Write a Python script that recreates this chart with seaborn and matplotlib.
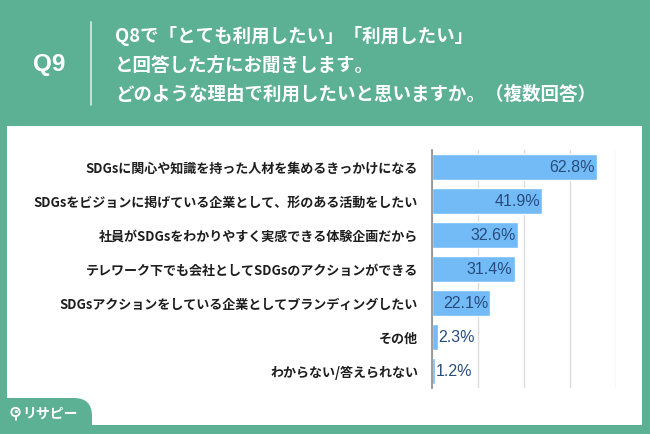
import matplotlib
matplotlib.use("Agg")
import matplotlib.pyplot as plt
import seaborn as sns
import pandas as pd
from matplotlib.patches import Rectangle, FancyBboxPatch, Circle

categories = [
    "SDGsに関心や知識を持った人材を集めるきっかけになる",
    "SDGsをビジョンに掲げている企業として、形のある活動をしたい",
    "社員がSDGsをわかりやすく実感できる体験企画だから",
    "テレワーク下でも会社としてSDGsのアクションができる",
    "SDGsアクションをしている企業としてブランディングしたい",
    "その他",
    "わからない/答えられない",
]
values = [62.8, 41.9, 32.6, 31.4, 22.1, 2.3, 1.2]
title_lines = [
    "Q8で「とても利用したい」「利用したい」",
    "と回答した方にお聞きします。",
    "どのような理由で利用したいと思いますか。（複数回答）",
]
q_label = "Q9"

GREEN = "#5cb094"
BAR = "#72bbf6"
VAL = "#284c7c"

sns.set_theme(style="white")
plt.rcParams["font.family"] = ["Noto Sans CJK JP", "DejaVu Sans"]

W, H = 650, 434
fig = plt.figure(figsize=(6.5, 4.34), dpi=100, facecolor=GREEN)

# background / decoration axes in pixel coordinates
bg = fig.add_axes([0, 0, 1, 1], zorder=0)
bg.set_xlim(0, W)
bg.set_ylim(H, 0)
bg.axis("off")
bg.add_patch(Rectangle((7, 126), 635, 299, facecolor="white", edgecolor="none"))
bg.add_patch(FancyBboxPatch((-40, 398), 132, 80, boxstyle="round,pad=0,rounding_size=18",
                            facecolor=GREEN, edgecolor="none"))
bg.plot([91, 91], [22, 105], color="#d6ece3", lw=1.2)
bg.text(49, 64, q_label, color="white", fontsize=17.5, fontweight="bold",
        ha="center", va="center", family=["Liberation Sans", "DejaVu Sans"])
for i, line in enumerate(title_lines):
    bg.text(115, 36 + i * 29, line, color="white", fontsize=13.3, fontweight="bold",
            ha="left", va="center")
# logo
bg.add_patch(Circle((15.5, 412), 4.2, facecolor="none", edgecolor="white", lw=1.3))
bg.add_patch(Circle((16.3, 411.5), 1.6, facecolor="white", edgecolor="none"))
bg.plot([15.5, 15.5], [416, 420], color="white", lw=1.3)
bg.text(22, 414, "リサピー", color="white", fontsize=10, fontweight="bold",
        ha="left", va="center")

# main chart
left, right = 432 / W, 616 / W
top, bottom = 1 - 150 / H, 1 - 388 / H
ax = fig.add_axes([left, bottom, right - left, top - bottom], zorder=1)
ax.patch.set_alpha(0)

df = pd.DataFrame({"category": categories, "value": values})
sns.barplot(data=df, x="value", y="category", color=BAR, width=0.74,
            saturation=1, ax=ax, zorder=2)

ax.set_xlim(0, 70)
ax.set_ylim(len(categories) - 0.5, -0.5)
ax.set_xticks([0, 17.5, 35, 52.5, 70])
ax.set_xticklabels([])
ax.grid(axis="x", color="#dcdcdc", lw=1, zorder=0)
ax.grid(axis="y", visible=False)
for s in ["top", "right", "bottom"]:
    ax.spines[s].set_visible(False)
ax.spines["left"].set_color("#8a8a8a")
ax.spines["left"].set_linewidth(1.2)
ax.spines["left"].set_zorder(3)
ax.tick_params(axis="both", length=0)
ax.tick_params(axis="y", pad=10)
ax.set_xlabel("")
ax.set_ylabel("")
for lab in ax.get_yticklabels():
    lab.set_fontsize(9.4)
    lab.set_fontweight("bold")
    lab.set_color("#1e1e1e")

for i, v in enumerate(values):
    txt = f"{v:.1f}%"
    if v > 10:
        ax.annotate(txt, (v, i), xytext=(-1.5, 0), textcoords="offset points",
                    ha="right", va="center", color=VAL, fontsize=11.5,
                    family=["Liberation Sans", "DejaVu Sans"], zorder=4)
    else:
        ax.annotate(txt, (v, i), xytext=(0.5, 0), textcoords="offset points",
                    ha="left", va="center", color=VAL, fontsize=11.5,
                    family=["Liberation Sans", "DejaVu Sans"], zorder=4)

fig.savefig("out.png", dpi=100, facecolor=GREEN)
